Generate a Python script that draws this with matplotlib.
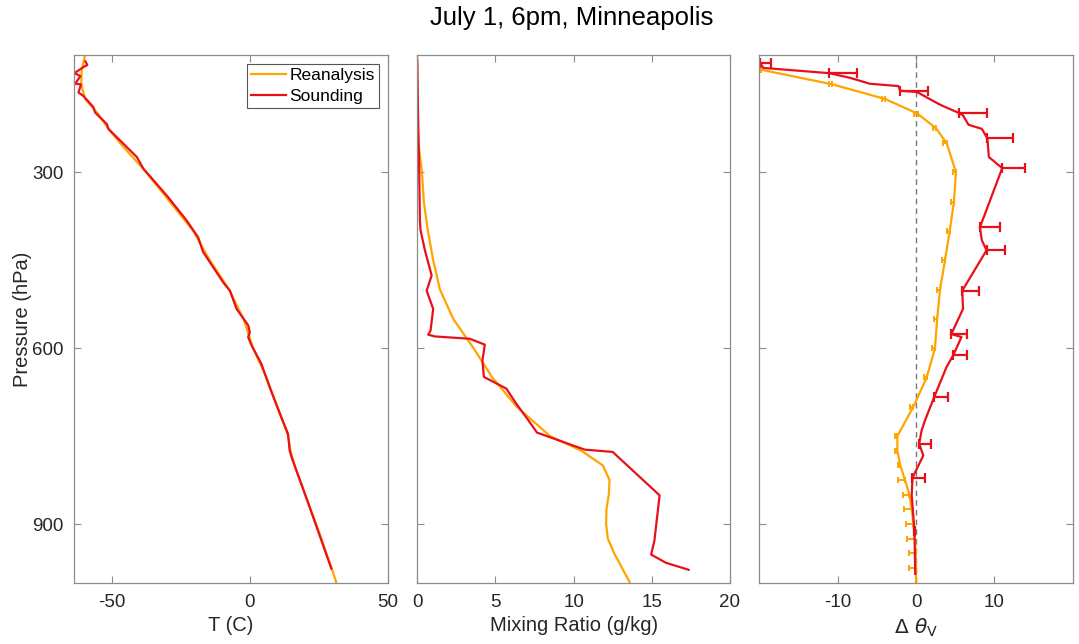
import numpy as np
import matplotlib
matplotlib.use("Agg")
import matplotlib.pyplot as plt

plt.rcParams['font.family'] = ['Liberation Sans', 'DejaVu Sans']
plt.rcParams['axes.unicode_minus'] = False

# ---------------- data ----------------
# Reanalysis (pressure levels, hPa)
rea_p = [100, 125, 150, 175, 200, 225, 250, 300, 350, 400, 450, 500, 550, 600,
         650, 700, 750, 775, 800, 825, 850, 875, 900, 925, 950, 975, 1000]
rea_T = [-59.6, -60.8, -61.0, -59.6, -55.0, -51.3, -47.0, -37.5, -29.0, -20.5,
         -14.5, -7.5, -2.3, 1.2, 6.0, 10.0, 13.9, 14.7, 16.2, 18.1, 20.0, 22.0,
         24.0, 25.9, 27.7, 29.6, 31.3]
rea_w = [0.0, 0.0, 0.0, 0.01, 0.02, 0.04, 0.08, 0.3, 0.42, 0.68, 1.02, 1.45,
         2.3, 3.6, 4.8, 6.36, 8.5, 10.5, 11.87, 12.3, 12.25, 12.1, 12.08, 12.19,
         12.6, 13.1, 13.6]

# Sounding temperature
snd_Tp = [111, 117, 120, 131, 136, 149, 150, 164, 170, 189, 198, 218, 226, 274,
          294, 340, 382, 411, 436, 488, 502, 533, 561, 573, 581, 595, 627, 667,
          689, 718, 746, 774, 786, 848, 976]
snd_T = [-59.5, -58.8, -60.0, -63.5, -61.3, -63.2, -61.1, -62.0, -60.2, -56.6,
         -56.0, -51.7, -51.2, -40.9, -38.5, -30.0, -22.9, -18.7, -16.9, -9.6,
         -7.2, -4.8, -0.6, 0.0, -0.6, 0.6, 4.2, 7.2, 9.0, 11.4, 13.8, 14.4,
         15.1, 19.9, 29.5]

# Sounding mixing ratio
snd_wp = [111, 200, 291, 382, 399, 433, 476, 502, 533, 570, 577, 580, 584, 594,
          621, 649, 669, 695, 722, 744, 773, 777, 851, 928, 952, 966, 978]
snd_w = [0.0, 0.05, 0.12, 0.17, 0.21, 0.49, 0.92, 0.6, 1.02, 0.85, 0.7, 1.13,
         3.36, 4.32, 4.17, 4.26, 5.7, 6.34, 7.08, 7.66, 10.7, 12.5, 15.5, 15.17,
         14.96, 15.9, 17.36]

# Delta theta_v : reanalysis (levels from 125 hPa)
rea_dp = [125, 150, 175, 200, 225, 250, 300, 350, 400, 450, 500, 550, 600, 650,
          700, 750, 775, 800, 825, 850, 875, 900, 925, 950, 975, 1000]
rea_dth = [-19.8, -10.7, -3.95, 0.2, 2.55, 3.9, 5.1, 4.84, 4.3, 3.7, 3.06, 2.7,
           2.42, 1.36, -0.34, -2.38, -2.38, -2.0, -1.4, -0.85, -0.55, -0.34,
           -0.13, -0.04, 0.0, 0.0]
rea_err = [0.4, 0.4, 0.4, 0.4, 0.4, 0.4, 0.4, 0.4, 0.4, 0.4, 0.4, 0.4, 0.4, 0.4,
           0.4, 0.35, 0.35, 0.35, 0.85, 0.85, 0.93, 0.98, 0.98, 0.9, 0.9, 0.0]

# Delta theta_v : sounding line
snd_dp = [113, 122, 127, 131, 139, 149, 153, 161, 163, 185, 199, 203, 219, 226,
          242, 274, 293, 394, 416, 433, 502, 533, 576, 581, 612, 632, 684, 723,
          740, 763, 783, 821, 851, 911, 985]
snd_dth = [-19.9, -19.5, -14.8, -11.1, -8.4, -5.9, -2.25, -2.0, 0.1, 3.1, 5.5,
           6.0, 6.7, 8.4, 9.1, 9.3, 11.0, 8.15, 8.4, 9.0, 5.9, 6.0, 4.5, 5.8,
           4.75, 3.9, 2.3, 1.15, 0.72, 0.4, 0.93, -0.45, -0.55, -0.2, -0.1]

# Sounding error bars (one-sided, to the right)
bar_p = [113, 131, 162, 199, 242, 293, 394, 433, 502, 576, 612, 684, 763, 821, 911]
bar_x = [-19.9, -11.1, -2.1, 5.5, 9.1, 11.0, 8.15, 9.0, 5.9, 4.5, 4.75, 2.3,
         0.4, -0.45, -0.2]
bar_e = [1.4, 3.6, 3.6, 3.6, 3.3, 2.9, 2.55, 2.3, 2.2, 2.0, 1.75, 1.8, 1.5,
         1.6, 0.1]

ORANGE = '#FFA500'
RED = '#E8101A'
AX_COL = '#8c8c8c'
TXT_COL = '#262626'

fig = plt.figure(figsize=(10.79, 6.44), dpi=100)
bottom, height = 0.0952, 0.8194
ax1 = fig.add_axes([0.0689, bottom, 0.2907, height])
ax2 = fig.add_axes([0.3867, bottom, 0.2898, height])
ax3 = fig.add_axes([0.7037, bottom, 0.2905, height])

lw = 1.6
ax1.plot(rea_T, rea_p, color=ORANGE, lw=lw, label='Reanalysis')
ax1.plot(snd_T, snd_Tp, color=RED, lw=lw, label='Sounding')
ax1.set_xlim(-63.5, 50)
ax1.set_xticks([-50, 0, 50])
ax1.set_xlabel('T (C)')
ax1.set_ylabel('Pressure (hPa)')
leg = ax1.legend(loc='upper right', fontsize=12.5, frameon=True, fancybox=False,
                 edgecolor='#555555', framealpha=1, borderpad=0.25,
                 handlelength=2.0, handletextpad=0.2, labelspacing=0.32,
                 borderaxespad=0.5)
leg.get_frame().set_linewidth(0.8)

ax2.plot(rea_w, rea_p, color=ORANGE, lw=lw)
ax2.plot(snd_w, snd_wp, color=RED, lw=lw)
ax2.set_xlim(0, 20)
ax2.set_xticks([0, 5, 10, 15, 20])
ax2.set_xlabel('Mixing Ratio (g/kg)')

ax3.axvline(0, color='#777777', lw=1.0, ls=(0, (4, 3)))
ax3.plot(rea_dth, rea_dp, color=ORANGE, lw=lw)
ax3.errorbar(rea_dth, rea_dp, xerr=[rea_err, np.zeros(len(rea_err))], fmt='none',
             ecolor=ORANGE, elinewidth=1.4, capsize=2.5, capthick=1.4)
ax3.plot(snd_dth, snd_dp, color=RED, lw=lw)
ax3.errorbar(bar_x, bar_p, xerr=[np.zeros(len(bar_e)), bar_e], fmt='none',
             ecolor=RED, elinewidth=1.6, capsize=3.5, capthick=1.6)
ax3.set_xlim(-20, 20)
ax3.set_xticks([-10, 0, 10])
ax3.set_xlabel(r'$\Delta\ \theta_{\rm V}$')

for ax in (ax1, ax2, ax3):
    ax.set_ylim(1000, 100)
    ax.set_yticks([300, 600, 900])
    ax.tick_params(direction='in', length=5, width=0.8, colors=AX_COL,
                   labelcolor=TXT_COL, labelsize=13.5, top=True, right=True,
                   pad=8)
    for s in ax.spines.values():
        s.set_color(AX_COL)
        s.set_linewidth(0.9)
    ax.xaxis.label.set_color(TXT_COL)
    ax.yaxis.label.set_color(TXT_COL)
    ax.xaxis.label.set_size(14.5)
    ax.yaxis.label.set_size(14.5)
    ax.xaxis.labelpad = 4
    ax.yaxis.labelpad = 0
for ax in (ax2, ax3):
    ax.set_yticklabels([])

fig.text(0.530, 0.972, 'July 1, 6pm, Minneapolis', fontsize=18.5,
         color='black', ha='center', va='center')

fig.savefig('out.png', dpi=100)
